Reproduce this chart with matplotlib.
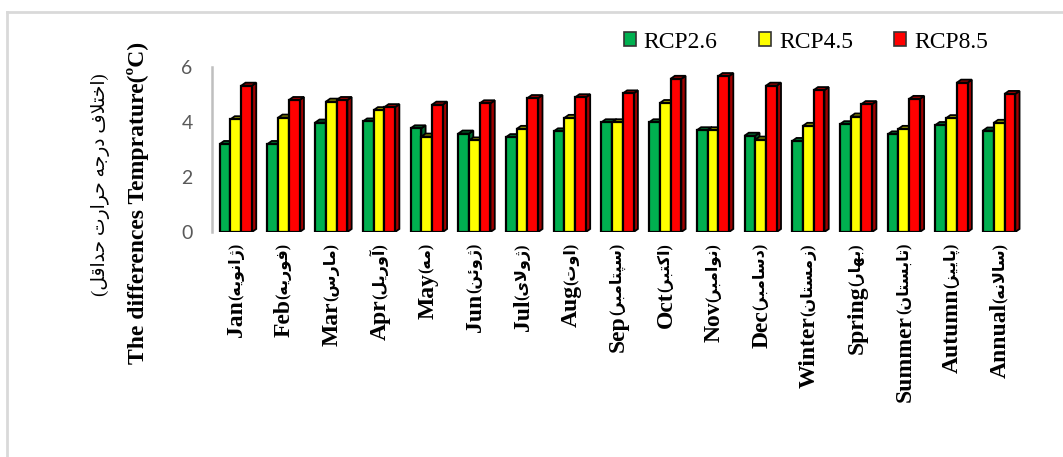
import numpy as np
import matplotlib
matplotlib.use("Agg")
import matplotlib.pyplot as plt
from matplotlib.patches import Polygon, Patch
from matplotlib.lines import Line2D

# داده ها
months_en = ['Jan', 'Feb', 'Mar', 'Apr', 'May', 'Jun', 'Jul', 'Aug', 'Sep', 'Oct', 'Nov', 'Dec',
             'Winter', 'Spring', 'Summer', 'Autumn', 'Annual']
months_fa = ['ژانویه', 'فوریه', 'مارس', 'آوریل', 'مه', 'ژوئن', 'ژولای', 'اوت', 'سپتامبر', 'اکتبر',
             'نوامبر', 'دسامبر', 'زمستان', 'بهار', 'تابستان', 'پاییز', 'سالانه']
rcp26 = [3.2, 3.2, 3.98, 4.02, 3.77, 3.58, 3.45, 3.66, 3.99, 3.99, 3.7, 3.5, 3.31, 3.92, 3.55, 3.89, 3.69]
rcp45 = [4.1, 4.16, 4.74, 4.43, 3.47, 3.33, 3.75, 4.15, 3.99, 4.69, 3.7, 3.36, 3.86, 4.2, 3.75, 4.14, 3.97]
rcp85 = [5.32, 4.8, 4.8, 4.54, 4.63, 4.68, 4.87, 4.9, 5.04, 5.57, 5.67, 5.32, 5.16, 4.65, 4.84, 5.43, 5.02]
series_names = ['RCP2.6', 'RCP4.5', 'RCP8.5']
yticks = [0, 2, 4, 6]
ylabel_en = 'The differences Temprature(ºC)'
ylabel_fa = 'اختلاف درجه حرارت حداقل'

# شکل حروف فارسی (isolated, final, initial, medial)
FORMS = {
    'ا': ('\uFE8D', '\uFE8E'), 'آ': ('\uFE81', '\uFE82'),
    'د': ('\uFEA9', '\uFEAA'), 'ر': ('\uFEAD', '\uFEAE'),
    'ز': ('\uFEAF', '\uFEB0'), 'ژ': ('\uFB8A', '\uFB8B'),
    'و': ('\uFEED', '\uFEEE'),
    'ئ': ('\uFE89', '\uFE8A', '\uFE8B', '\uFE8C'),
    'ب': ('\uFE8F', '\uFE90', '\uFE91', '\uFE92'),
    'پ': ('\uFB56', '\uFB57', '\uFB58', '\uFB59'),
    'ت': ('\uFE95', '\uFE96', '\uFE97', '\uFE98'),
    'ج': ('\uFE9D', '\uFE9E', '\uFE9F', '\uFEA0'),
    'ح': ('\uFEA1', '\uFEA2', '\uFEA3', '\uFEA4'),
    'خ': ('\uFEA5', '\uFEA6', '\uFEA7', '\uFEA8'),
    'س': ('\uFEB1', '\uFEB2', '\uFEB3', '\uFEB4'),
    'ف': ('\uFED1', '\uFED2', '\uFED3', '\uFED4'),
    'ق': ('\uFED5', '\uFED6', '\uFED7', '\uFED8'),
    'ک': ('\uFB8E', '\uFB8F', '\uFB90', '\uFB91'),
    'ل': ('\uFEDD', '\uFEDE', '\uFEDF', '\uFEE0'),
    'م': ('\uFEE1', '\uFEE2', '\uFEE3', '\uFEE4'),
    'ن': ('\uFEE5', '\uFEE6', '\uFEE7', '\uFEE8'),
    'ه': ('\uFEE9', '\uFEEA', '\uFEEB', '\uFEEC'),
    'ی': ('\uFBFC', '\uFBFD', '\uFBFE', '\uFBFF'),
}


def dual(c):
    return c in FORMS and len(FORMS[c]) == 4


def shape(text):
    out = []
    i = 0
    while i < len(text):
        c = text[i]
        if c not in FORMS:
            out.append(c)
            i += 1
            continue
        cp = i > 0 and dual(text[i - 1])
        if c == 'ل' and i + 1 < len(text) and text[i + 1] == 'ا':
            out.append('\uFEFC' if cp else '\uFEFB')
            i += 2
            continue
        cn = dual(c) and i + 1 < len(text) and text[i + 1] in FORMS
        f = FORMS[c]
        if cp and cn:
            out.append(f[3])
        elif cp:
            out.append(f[1])
        elif cn:
            out.append(f[2])
        else:
            out.append(f[0])
        i += 1
    return ''.join(reversed(out))


serif = ['Liberation Serif', 'DejaVu Sans']

fig = plt.figure(figsize=(10.63, 4.57), dpi=100)
ax = fig.add_axes([212 / 1063, (457 - 232) / 457, 811 / 1063, 165 / 457])

front = ['#00B050', '#FFFF00', '#FF0000']
side = ['#006B2E', '#9A9A00', '#A00000']
x = np.arange(len(months_en))
w = 0.225
dx = 0.09
dy = 0.11
for s, vals in enumerate([rcp26, rcp45, rcp85]):
    xs = x + (s - 1) * w
    ax.bar(xs, vals, w, color=front[s], edgecolor='black', linewidth=1.6, zorder=3 + 2 * s)
    for xc, v in zip(xs, vals):
        x0, x1 = xc - w / 2, xc + w / 2
        ax.add_patch(Polygon([(x1, 0), (x1 + dx, dy), (x1 + dx, v + dy), (x1, v)],
                             facecolor=side[s], edgecolor='black', linewidth=1.3, zorder=2 + 2 * s))
        ax.add_patch(Polygon([(x0, v), (x0 + dx, v + dy), (x1 + dx, v + dy), (x1, v)],
                             facecolor=side[s], edgecolor='black', linewidth=1.3, zorder=2 + 2 * s))

ax.set_xlim(-0.5, len(months_en) - 0.5)
ax.set_ylim(0, 6)
ax.set_yticks(yticks)
ax.tick_params(axis='y', length=0, pad=14, labelsize=14, labelcolor='#595959')
for t in ax.get_yticklabels():
    t.set_family('Lato')
ax.set_xticks([])
for sp in ['top', 'right', 'bottom']:
    ax.spines[sp].set_visible(False)
ax.spines['left'].set_color('#bfbfbf')
ax.spines['left'].set_linewidth(1.8)

# برچسب دسته ها: بخش فارسی بالا، بخش انگلیسی پایین آن
for xi, en, fa in zip(x, months_en, months_fa):
    t = ax.annotate('(' + shape(fa) + ')', xy=(xi, 0), xycoords='data', xytext=(0, -11),
                    textcoords='offset pixels', rotation=90, ha='center', va='top',
                    family=serif, fontweight='bold', fontsize=11.5, annotation_clip=False)
    ax.annotate(en, xy=(0.5, 0), xycoords=t, xytext=(1, 0), textcoords='offset pixels',
                rotation=90, ha='center', va='top', family=serif, fontweight='bold', fontsize=17,
                annotation_clip=False)

fig.text(138 / 1063, (457 - 203) / 457, ylabel_en, rotation=90, ha='center', va='center',
         family=serif, fontweight='bold', fontsize=17)
fig.text(100 / 1063, (457 - 185) / 457, '(' + shape(ylabel_fa) + ')', rotation=90, ha='center',
         va='center', family=serif, fontsize=13.5)

handles = [Patch(facecolor=front[s], edgecolor='#333333', linewidth=1.2) for s in range(3)]
fig.legend(handles, series_names, loc='center', bbox_to_anchor=(806 / 1063, (457 - 42) / 457), ncol=3,
           frameon=False, prop={'family': serif, 'size': 17}, handlelength=0.5, handleheight=0.5,
           handletextpad=0.35, columnspacing=1.75)

# حاشیه
fig.add_artist(Line2D([7 / 1063, 1], [1 - 12 / 457, 1 - 12 / 457], color='#d9d9d9', lw=2))
fig.add_artist(Line2D([7 / 1063, 7 / 1063], [0, 1 - 12 / 457], color='#d9d9d9', lw=2))

fig.savefig('out.png', dpi=100)
